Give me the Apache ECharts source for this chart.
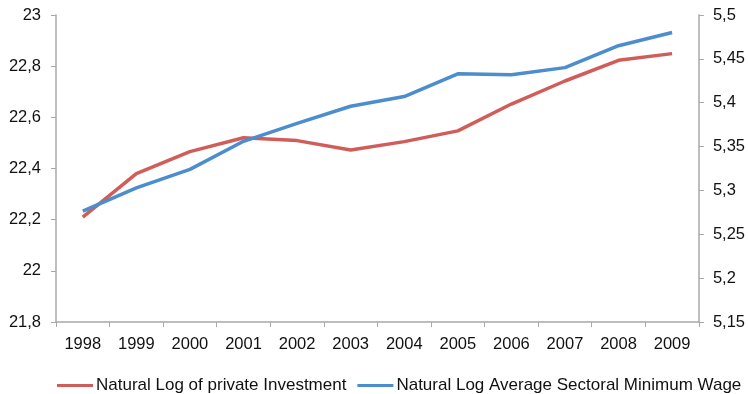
<!DOCTYPE html>
<html><head><meta charset="utf-8">
<script src="https://cdn.jsdelivr.net/npm/echarts@6/dist/echarts.min.js"></script>
<style>html,body{margin:0;padding:0;background:#fff}#c{width:748px;height:394px}</style>
</head><body><div id="c"></div>
<script>
const years = ['1998','1999','2000','2001','2002','2003','2004','2005','2006','2007','2008','2009'];
const investment = [22.21, 22.38, 22.466, 22.52, 22.509, 22.472, 22.505, 22.547, 22.652, 22.742, 22.823, 22.849];
const minWage = [5.2765, 5.303, 5.324, 5.356, 5.3765, 5.396, 5.407, 5.433, 5.432, 5.44, 5.465, 5.48];
const seriesNames = ['Natural Log of private Investment', 'Natural Log Average Sectoral Minimum Wage'];
const colors = ['#cf5d59', '#4b8dcd'];

const chart = echarts.init(document.getElementById('c'));
const axisCol = '#a8a8a8';
const font = 'Liberation Sans, Arial, sans-serif';
const fmt = v => String(+v.toFixed(2)).replace('.', ',');
chart.setOption({
  animation: false,
  textStyle: {fontFamily: font},
  grid: {left: 56, right: 49, top: 15, bottom: 72, containLabel: false},
  legend: {
    top: 372, left: 52, itemWidth: 36, itemHeight: 3, itemGap: 11,
    icon: 'rect',
    textStyle: {fontSize: 17, color: '#111', fontFamily: font, padding: [0, 0, 0, -2]},
    data: seriesNames
  },
  xAxis: {
    type: 'category', data: years, boundaryGap: true,
    axisLine: {lineStyle: {color: axisCol, width: 1.5}},
    axisTick: {show: true, inside: false, length: 5, lineStyle: {color: axisCol}},
    axisLabel: {fontSize: 16.5, color: '#111', margin: 14}
  },
  yAxis: [{
    type: 'value', min: 21.8, max: 23, interval: 0.2, position: 'left',
    axisLine: {show: true, lineStyle: {color: axisCol, width: 1.5}},
    axisTick: {show: true, length: 5, lineStyle: {color: axisCol}},
    splitLine: {show: false},
    axisLabel: {fontSize: 16.5, color: '#111', margin: 15, formatter: fmt}
  }, {
    type: 'value', min: 5.15, max: 5.5, interval: 0.05, position: 'right',
    axisLine: {show: true, lineStyle: {color: axisCol, width: 1.5}},
    axisTick: {show: true, length: 5, lineStyle: {color: axisCol}},
    splitLine: {show: false},
    axisLabel: {fontSize: 16.5, color: '#111', margin: 14, formatter: fmt}
  }],
  series: [{
    name: seriesNames[0], type: 'line', yAxisIndex: 0, data: investment,
    symbol: 'none', lineStyle: {width: 3.5, color: colors[0]}, itemStyle: {color: colors[0]}
  }, {
    name: seriesNames[1], type: 'line', yAxisIndex: 1, data: minWage,
    symbol: 'none', lineStyle: {width: 3.5, color: colors[1]}, itemStyle: {color: colors[1]}
  }]
});
</script></body></html>
